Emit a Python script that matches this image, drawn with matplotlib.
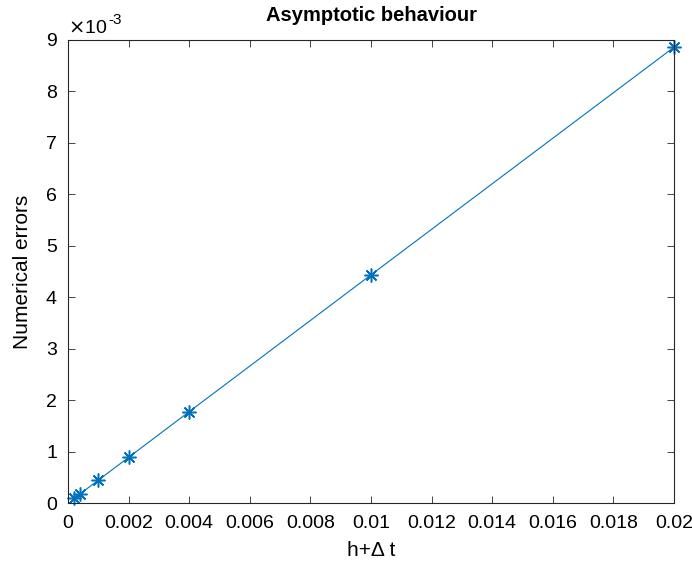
import matplotlib
matplotlib.use("Agg")
import matplotlib.pyplot as plt

# step sizes (h + dt) and measured numerical errors
step = [0.0002, 0.0004, 0.001, 0.002, 0.004, 0.01, 0.02]
errors = [0.089e-3, 0.178e-3, 0.443e-3, 0.887e-3, 1.775e-3, 4.435e-3, 8.86e-3]

xticks = [0, 0.002, 0.004, 0.006, 0.008, 0.01, 0.012, 0.014, 0.016, 0.018, 0.02]
xticklabels = ["0", "0.002", "0.004", "0.006", "0.008", "0.01", "0.012",
               "0.014", "0.016", "0.018", "0.02"]
yticks = list(range(10))

plt.rcParams["font.family"] = ["Liberation Sans", "DejaVu Sans"]

fig = plt.figure(figsize=(6.92, 5.67), dpi=100)
ax = fig.add_axes([68 / 692, 1 - 503 / 567, (674 - 68) / 692, (503 - 40) / 567])

blue = "#0072BD"
ax.plot(step, errors, color=blue, linewidth=0.8, marker=(8, 2, 0), markersize=10,
        markeredgewidth=1.1, clip_on=False)

ax.set_xlim(0, 0.02)
ax.set_ylim(0, 9e-3)
ax.set_xticks(xticks)
ax.set_xticklabels(xticklabels)
ax.set_yticks([v * 1e-3 for v in yticks])
ax.set_yticklabels([str(v) for v in yticks])
ax.tick_params(direction="in", length=5, width=0.6, labelsize=14, colors="#262626",
               labelcolor="black", top=True, right=True)
ax.tick_params(axis="x", pad=9)
ax.tick_params(axis="y", pad=8)
for s in ax.spines.values():
    s.set_linewidth(0.8)
    s.set_color("#262626")

# MATLAB-style exponent label above the y axis
ax.annotate(r"$\times$10", xy=(0, 1), xycoords="axes fraction", xytext=(0, 2),
            textcoords="offset points", fontsize=14, ha="left", va="bottom")
ax.annotate("-3", xy=(0, 1), xycoords="axes fraction", xytext=(29, 9),
            textcoords="offset points", fontsize=11, ha="left", va="bottom")

ax.set_title("Asymptotic behaviour", fontsize=14.5, fontweight="bold", pad=14)
ax.set_xlabel("h+\u0394 t", fontsize=15, labelpad=6)
ax.set_ylabel("Numerical errors", fontsize=15, labelpad=10)

fig.savefig("out.png", dpi=100)
